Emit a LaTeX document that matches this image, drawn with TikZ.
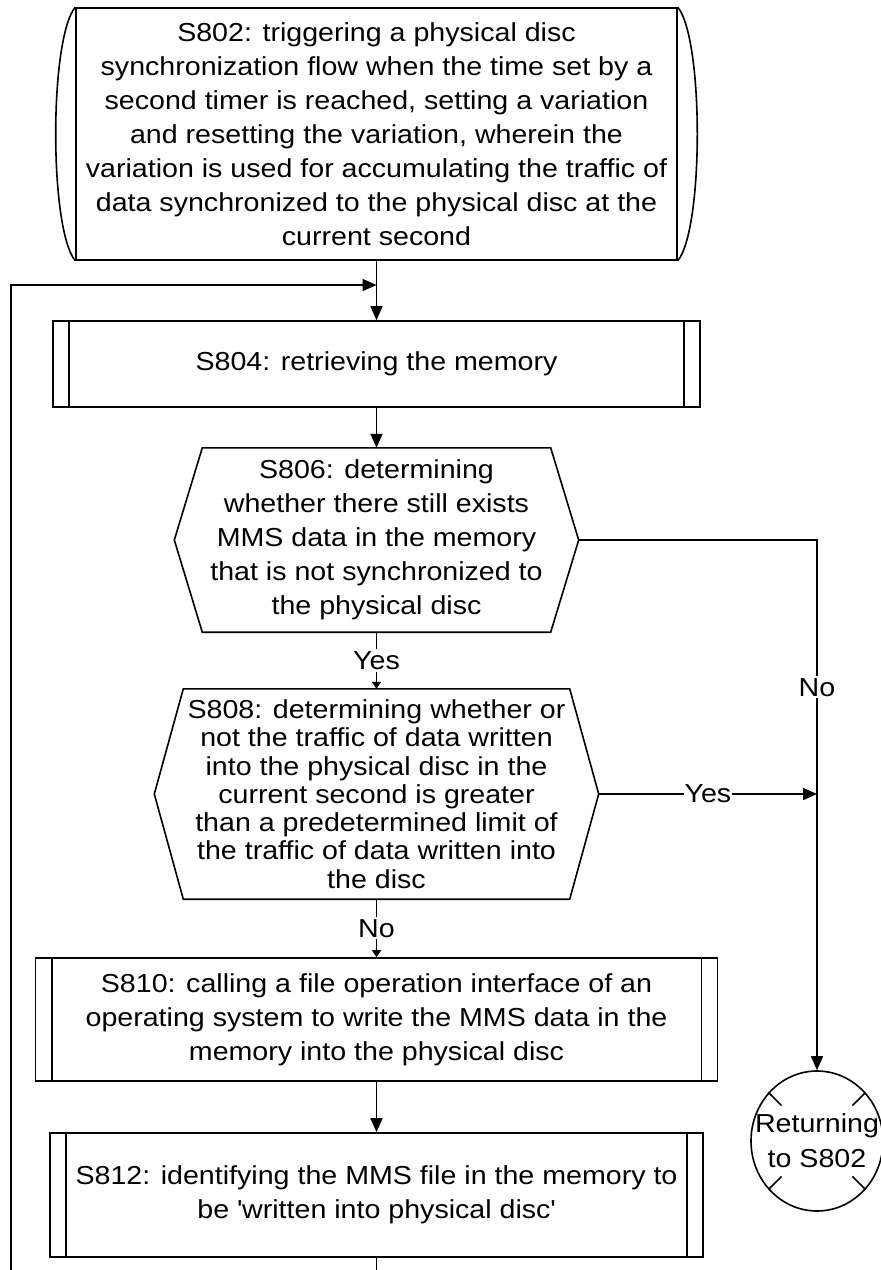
\documentclass[tikz,border=0pt]{standalone}
\usepackage{fontspec}
\setmainfont{Liberation Sans}[FakeStretch=1.1]
\usetikzlibrary{arrows.meta,shapes.geometric,calc}

\tikzset{
    flowline/.style={
        draw=black,
        line width=1.6pt},
    bigtip/.style={
        flowline,
        -{Triangle[length=14pt,width=12pt]}},
    smalltip/.style={
        flowline,
        -{Triangle[length=7pt,width=9pt]}},
    steptext/.style={
        align=center,
        inner sep=0pt,
        font=\fontsize{26}{34}\selectfont},
    startbox/.style={
        steptext,
        flowline,
        rectangle},
    procbox/.style={
        steptext,
        flowline,
        rectangle},
    testbox/.style={
        steptext},
    answer/.style={
        fill=white,
        inner sep=2pt,
        font=\fontsize{26}{30}\selectfont}
}

\begin{document}
\begin{tikzpicture}[x=1pt, y=-1pt]
\useasboundingbox (0,0) rectangle (881,1270);

% steps
\node [startbox, minimum width=601pt, minimum height=252pt] (s802) at (376.5,134)
    {S802: triggering a physical disc\\synchronization flow when the time set by a\\second timer is reached, setting a variation\\and resetting the variation, wherein the\\variation is used for accumulating the traffic of\\data synchronized to the physical disc at the\\current second};
\draw [flowline] (s802.north west) .. controls +(-26,32) and +(-26,-32) .. (s802.south west);
\draw [flowline] (s802.north east) .. controls +(26,32) and +(26,-32) .. (s802.south east);

\node [procbox, minimum width=647pt, minimum height=86pt] (s804) at (376.5,364)
    {S804: retrieving the memory};

\node [testbox, minimum width=404pt, minimum height=184pt] (s806) at (376.5,540)
    {S806: determining\\whether there still exists\\MMS data in the memory\\that is not synchronized to\\the physical disc};

\node [testbox, font=\fontsize{26}{28.3}\selectfont, minimum width=444pt, minimum height=210pt] (s808) at (376.5,794)
    {S808: determining whether or\\not the traffic of data written\\into the physical disc in the\\current second is greater\\than a predetermined limit of\\the traffic of data written into\\the disc};

\node [procbox, minimum width=682pt, minimum height=123pt] (s810) at (376.5,1019.5)
    {S810: calling a file operation interface of an\\operating system to write the MMS data in the\\memory into the physical disc};

\node [procbox, minimum width=653pt, minimum height=124pt] (s812) at (376.5,1195)
    {S812: identifying the MMS file in the memory to\\be \textquotesingle written into physical disc\textquotesingle};

\node [flowline, ellipse, inner sep=0pt, minimum width=132pt, minimum height=140pt] (ret) at (817,1141) {};
\node [steptext, font=\fontsize{26}{35}\selectfont] (ret-text) at (ret.center) {Returning\\to S802};

% decision outlines
\foreach \n/\d in {s806/28, s808/29}{
    \draw [flowline] ([xshift=\d pt]\n.north west) -- ([xshift=-\d pt]\n.north east) -- (\n.east)
        -- ([xshift=-\d pt]\n.south east) -- ([xshift=\d pt]\n.south west) -- (\n.west) -- cycle;
}

% predefined process bars
\foreach \n in {s804, s810, s812}{
    \draw [flowline] ([xshift=17pt]\n.north west) -- ([xshift=17pt]\n.south west);
    \draw [flowline] ([xshift=-17pt]\n.north east) -- ([xshift=-17pt]\n.south east);
}

% connector marks
\foreach \a in {45,135,225,315}
    \draw [flowline] (ret.\a) -- ($(ret.center)!0.73!(ret.\a)$);

% connectors
\coordinate (loop-in) at (376.5,285);
\coordinate (loop-out) at (11,1270);

\draw [bigtip] (s802) -- (s804);
\draw [bigtip] (s804) -- (s806);
\draw [smalltip] (s806) -- node [answer] {Yes} (s808);
\draw [smalltip] (s808) -- node [answer] {No} (s810);
\draw [bigtip] (s810) -- (s812);
\draw [bigtip] (s806.east) -| node [answer, pos=0.639] {No} (ret);
\draw [bigtip] (s808.east) -- node [answer, inner sep=1pt] {Yes} (s808.east -| ret);
\draw [flowline] (s812) -- (s812.south |- loop-out);
\draw [bigtip] (loop-out) |- (loop-in);

\end{tikzpicture}
\end{document}
